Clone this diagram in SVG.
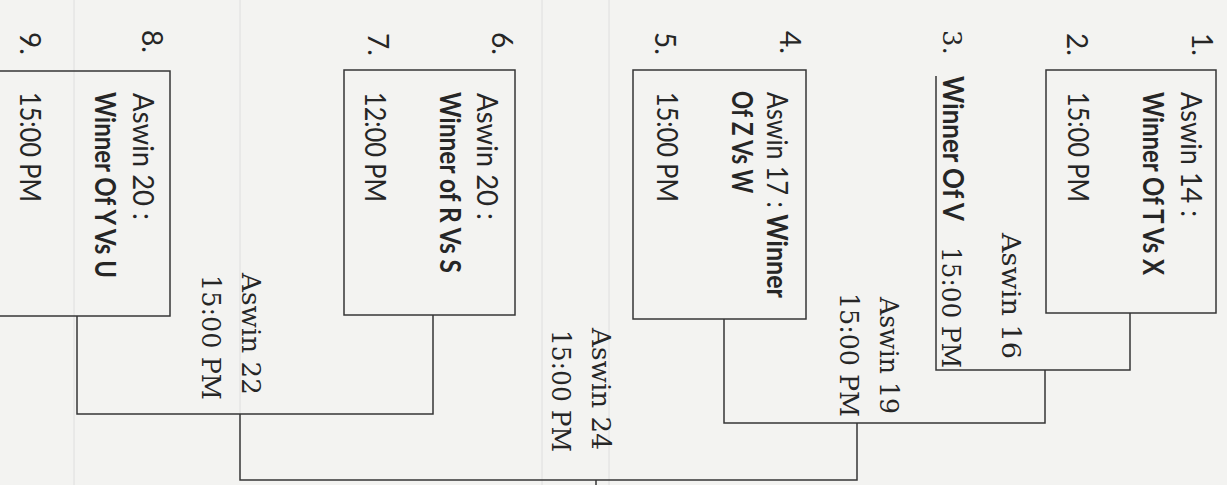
<svg xmlns="http://www.w3.org/2000/svg" width="1227" height="485" viewBox="0 0 1227 485">
  <style>
    .bg { fill: #f3f3f1; }
    .scan { stroke: #dedede; stroke-width: 1; fill: none; }
    .box { fill: none; stroke: #363636; stroke-width: 1.5; }
    .wire { fill: none; stroke: #363636; stroke-width: 1.5; }
    .s { font-family: "Lato", "Liberation Sans", sans-serif; font-size: 28px; fill: #262626; }
    .b { font-family: "Lato", "Liberation Sans", sans-serif; font-size: 28px; font-weight: bold; fill: #262626; }
    .r { font-family: "DejaVu Serif", "Liberation Serif", serif; font-size: 26px; fill: #262626; }
  </style>
  <rect class="bg" x="0" y="0" width="1227" height="485"/>
  <g id="scan-lines">
    <line class="scan" x1="74" y1="0" x2="74" y2="485"/>
    <line class="scan" x1="240" y1="0" x2="240" y2="414"/>
    <line class="scan" x1="542" y1="0" x2="542" y2="485"/>
    <line class="scan" x1="609" y1="0" x2="609" y2="485"/>
  </g>

  <g id="connectors">
    <path class="wire" d="M936,76 V370 H1130 V313"/>
    <path class="wire" d="M1045,370 V423 H724 V319"/>
    <path class="wire" d="M857,423 V480 H240 V414"/>
    <path class="wire" d="M77,316 V414 H433 V315"/>
    <path class="wire" d="M596,480 V485"/>
  </g>

  <g id="match-1-2">
    <rect class="box" x="1046" y="70" width="170" height="243"/>
    <text class="s" transform="translate(1192,33) rotate(90)">1.</text>
    <text class="s" transform="translate(1181,92) rotate(90)" textLength="125" lengthAdjust="spacingAndGlyphs">Aswin 14 :</text>
    <text class="b" transform="translate(1143,92) rotate(90)" textLength="183" lengthAdjust="spacingAndGlyphs">Winner Of T Vs X</text>
    <text class="s" transform="translate(1067,33) rotate(90)">2.</text>
    <text class="s" transform="translate(1068,92) rotate(90)" textLength="110" lengthAdjust="spacingAndGlyphs">15:00 PM</text>
  </g>

  <g id="aswin-16">
    <text class="r" transform="translate(1002,233) rotate(90)" textLength="126" lengthAdjust="spacingAndGlyphs">Aswin 16</text>
  </g>

  <g id="match-3">
    <text class="r" transform="translate(943,30) rotate(90)">3.</text>
    <text class="b" transform="translate(943,76) rotate(90)" textLength="145" lengthAdjust="spacingAndGlyphs">Winner Of V</text>
    <text class="r" transform="translate(942,247) rotate(90)" textLength="121" lengthAdjust="spacingAndGlyphs">15:00 PM</text>
  </g>

  <g id="aswin-19">
    <text class="r" transform="translate(880,297) rotate(90)" textLength="117" lengthAdjust="spacingAndGlyphs">Aswin 19</text>
    <text class="r" transform="translate(840,293) rotate(90)" textLength="124" lengthAdjust="spacingAndGlyphs">15:00 PM</text>
  </g>

  <g id="match-4-5">
    <rect class="box" x="633" y="70" width="173" height="249"/>
    <text class="s" transform="translate(780,31) rotate(90)">4.</text>
    <text class="s" transform="translate(767,92) rotate(90)" textLength="206" lengthAdjust="spacingAndGlyphs">Aswin 17 : <tspan class="b">Winner</tspan></text>
    <text class="b" transform="translate(732,91) rotate(90)" textLength="102" lengthAdjust="spacingAndGlyphs">Of Z Vs W</text>
    <text class="s" transform="translate(655,32) rotate(90)">5.</text>
    <text class="s" transform="translate(657,92) rotate(90)" textLength="110" lengthAdjust="spacingAndGlyphs">15:00 PM</text>
  </g>

  <g id="aswin-24">
    <text class="r" transform="translate(592,328) rotate(90)" textLength="122" lengthAdjust="spacingAndGlyphs">Aswin 24</text>
    <text class="r" transform="translate(552,330) rotate(90)" textLength="122" lengthAdjust="spacingAndGlyphs">15:00 PM</text>
  </g>

  <g id="match-6-7">
    <rect class="box" x="344" y="70" width="171" height="245"/>
    <text class="s" transform="translate(492,32) rotate(90)">6.</text>
    <text class="s" transform="translate(477,93) rotate(90)" textLength="127" lengthAdjust="spacingAndGlyphs">Aswin 20 :</text>
    <text class="b" transform="translate(440,92) rotate(90)" textLength="181" lengthAdjust="spacingAndGlyphs">Winner of R Vs S</text>
    <text class="s" transform="translate(368,33) rotate(90)">7.</text>
    <text class="s" transform="translate(365,92) rotate(90)" textLength="110" lengthAdjust="spacingAndGlyphs">12:00 PM</text>
  </g>

  <g id="aswin-22">
    <text class="r" transform="translate(242,273) rotate(90)" textLength="122" lengthAdjust="spacingAndGlyphs">Aswin 22</text>
    <text class="r" transform="translate(202,275) rotate(90)" textLength="125" lengthAdjust="spacingAndGlyphs">15:00 PM</text>
  </g>

  <g id="match-8-9">
    <rect class="box" x="-2" y="71" width="172" height="245"/>
    <text class="s" transform="translate(142,30) rotate(90)">8.</text>
    <text class="s" transform="translate(133,93) rotate(90)" textLength="127" lengthAdjust="spacingAndGlyphs">Aswin 20 :</text>
    <text class="b" transform="translate(95,92) rotate(90)" textLength="186" lengthAdjust="spacingAndGlyphs">Winner Of Y Vs U</text>
    <text class="s" transform="translate(20,32) rotate(90)">9.</text>
    <text class="s" transform="translate(20,92) rotate(90)" textLength="110" lengthAdjust="spacingAndGlyphs">15:00 PM</text>
  </g>
</svg>
